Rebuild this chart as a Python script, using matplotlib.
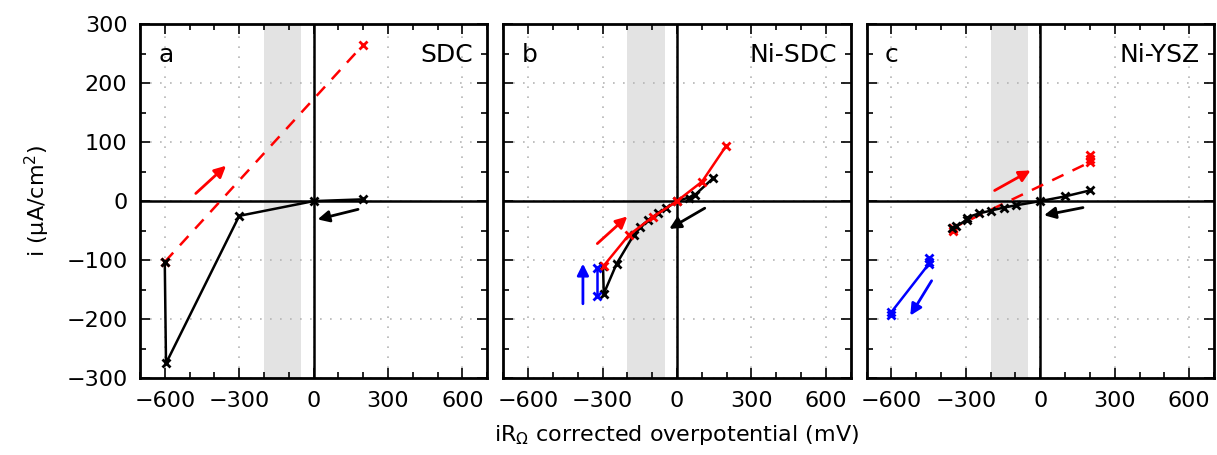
import matplotlib
matplotlib.use("Agg")
import matplotlib.pyplot as plt
from matplotlib.ticker import MultipleLocator

# ---- data ----
panel_letters = ["a", "b", "c"]
panel_names = ["SDC", "Ni-SDC", "Ni-YSZ"]

# panel a
a_red_x = [-600, 200]
a_red_y = [-103, 265]
a_black_x = [200, 0, -300, -595, -600]
a_black_y = [3, 0, -25, -275, -103]

# panel b
b_red_x = [-296, -195, -98, 0, 101, 199]
b_red_y = [-110, -58, -27, 0, 33, 94]
b_black_x = [146, 74, 47, 0, -44, -77, -115, -148, -175, -243, -295, -298]
b_black_y = [39, 11, 6, 0, -12, -21, -32, -44, -58, -106, -157, -110]
b_blue_x = [-321, -321]
b_blue_y = [-114, -160]

# panel c
c_red_x = [-350, -350, -350, 200, 200, 200]
c_red_y = [-50, -48, -45, 66, 72, 78]
c_black_x = [199, 100, 0, -96, -148, -198, -248, -297, -297, -340, -354]
c_black_y = [18, 8, 0, -7, -11, -16, -21, -28, -32, -43, -45]
c_blue_x = [-600, -600, -450, -450, -450]
c_blue_y = [-193, -188, -107, -103, -97]

# arrows: (tail_x, tail_y, head_x, head_y, color)
a_arrows = [(-475, 13, -353, 60, "red"), (179, -14, 16, -31, "black")]
b_arrows = [(-321, -72, -200, -26, "red"), (112, -12, -31, -47, "black"),
            (-379, -174, -379, -106, "blue")]
c_arrows = [(-184, 18, -39, 52, "red"), (172, -11, 15, -24, "black"),
            (-438, -135, -524, -194, "blue")]

span_lo, span_hi = -200, -50
xticks = [-600, -300, 0, 300, 600]
yticks = [-300, -200, -100, 0, 100, 200, 300]

plt.rcParams["font.family"] = ["DejaVu Sans"]

fig, axes = plt.subplots(1, 3, figsize=(12.17, 4.55), dpi=100, sharey=True)
fig.subplots_adjust(left=0.115, right=0.9975, top=0.947, bottom=0.169, wspace=0.046)

mk = dict(marker="x", markersize=5.5, markeredgewidth=2)

def arrows(ax, lst):
    for tx, ty, hx, hy, col in lst:
        ax.annotate("", xy=(hx, hy), xytext=(tx, ty),
                    arrowprops=dict(arrowstyle="-|>", color=col, lw=2,
                                    mutation_scale=17, shrinkA=0, shrinkB=0))

for i, ax in enumerate(axes):
    ax.axvspan(span_lo, span_hi, color="#e3e3e3", lw=0, zorder=0)
    ax.axhline(0, color="black", lw=1.8, zorder=1)
    ax.axvline(0, color="black", lw=1.8, zorder=1)
    ax.set_xlim(-700, 700)
    ax.set_ylim(-300, 300)
    ax.set_xticks(xticks)
    ax.set_yticks(yticks)
    ax.xaxis.set_minor_locator(MultipleLocator(100))
    ax.yaxis.set_minor_locator(MultipleLocator(50))
    ax.tick_params(which="both", direction="in", top=True, right=True, labelsize=16)
    ax.tick_params(which="major", length=7, width=1.2, pad=9)
    ax.tick_params(which="minor", length=4, width=1.2)
    ax.grid(True, which="major", linestyle=(0, (1, 5)), color="#b5b5b5", lw=1.2)
    ax.set_axisbelow(True)
    for s in ax.spines.values():
        s.set_linewidth(2)
    ax.text(0.052, 0.912, panel_letters[i], transform=ax.transAxes, fontsize=18,
            ha="left", va="center")
    ax.text(0.96, 0.912, panel_names[i], transform=ax.transAxes, fontsize=18,
            ha="right", va="center")

ax = axes[0]
ax.plot(a_red_x, a_red_y, color="red", ls=(0, (5, 4)), lw=1.8, **mk, zorder=3)
ax.plot(a_black_x, a_black_y, color="black", lw=1.8, **mk, zorder=3)
arrows(ax, a_arrows)

ax = axes[1]
ax.plot(b_black_x, b_black_y, color="black", lw=1.8, **mk, zorder=3)
ax.plot(b_red_x, b_red_y, color="red", lw=1.8, **mk, zorder=4)
ax.plot(b_blue_x, b_blue_y, color="blue", lw=1.8, **mk, zorder=4)
arrows(ax, b_arrows)

ax = axes[2]
ax.plot(c_red_x, c_red_y, color="red", ls=(0, (5, 4)), lw=1.8, **mk, zorder=3)
ax.plot(c_black_x, c_black_y, color="black", lw=1.8, **mk, zorder=4)
ax.plot(c_blue_x, c_blue_y, color="blue", lw=1.8, **mk, zorder=4)
arrows(ax, c_arrows)

axes[0].set_ylabel("i (μA/cm$^2$)", fontsize=16, labelpad=10)
axes[1].set_xlabel("iR$_\\Omega$ corrected overpotential (mV)", fontsize=16, labelpad=9)

fig.savefig("out.png", dpi=100)
